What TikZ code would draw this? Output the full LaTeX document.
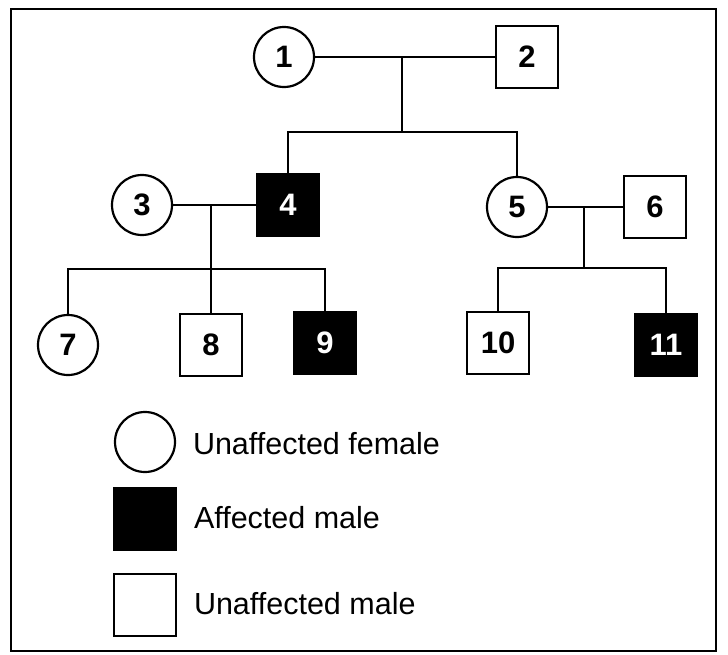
\documentclass[tikz,border=0pt]{standalone}
\usepackage{fontspec}
\setmainfont{Liberation Sans}
\begin{document}
\begin{tikzpicture}[x=1pt,y=-1pt,
  every node/.style={inner sep=0pt, outer sep=0pt},
  numfont/.style={font=\fontsize{31}{31}\bfseries\selectfont},
  fem/.style={circle, draw, line width=2.2pt, minimum size=60pt, numfont},
  male/.style={rectangle, draw, line width=2.2pt, minimum size=62pt, numfont},
  aff/.style={male, fill=black, text=white},
  link/.style={line width=1.8pt},
  legtext/.style={anchor=base west, font=\fontsize{30.5}{30.5}\selectfont}]
\useasboundingbox (0,0) rectangle (728,654);
\draw[line width=2.5pt] (11,9) rectangle (716,651);
% generation I
\node[fem]  (n1) at (284,57) {1};
\node[male] (n2) at (527,57) {2};
% generation II
\node[fem]  (n3) at (142,205) {3};
\node[aff]  (n4) at (288,205) {4};
\node[fem]  (n5) at (517,207) {5};
\node[male] (n6) at (655,207) {6};
% generation III
\node[fem]  (n7) at (68,345) {7};
\node[male] (n8) at (211,345) {8};
\node[aff]  (n9) at (325,343) {9};
\node[male] (n10) at (498,343) {10};
\node[aff]  (n11) at (666,345) {11};
% connectors
\coordinate (m12) at (402,57);
\coordinate (s12) at (402,132);
\draw[link] (n1) -- (n2);
\draw[link] (m12) -- (s12);
\draw[link] (n4.north) |- (s12) -| (n5.north);
\coordinate (m34) at (211,205);
\coordinate (s34) at (211,269);
\draw[link] (n3) -- (n4);
\draw[link] (m34) -- (n8.north);
\draw[link] (n7.north) |- (s34) -| (n9.north);
\coordinate (m56) at (584,207);
\coordinate (s56) at (584,268);
\draw[link] (n5) -- (n6);
\draw[link] (m56) -- (s56);
\draw[link] (n10.north) |- (s56) -| (n11.north);
% legend
\node[fem]  (lf) at (145,442) {};
\node[aff]  (la) at (145,519) {};
\node[male] (lu) at (145,605) {};
\node[legtext] (tf) at (193,454) {Unaffected female};
\node[legtext] (ta) at (194,528) {Affected male};
\node[legtext] (tu) at (194,614) {Unaffected male};
\end{tikzpicture}
\end{document}
